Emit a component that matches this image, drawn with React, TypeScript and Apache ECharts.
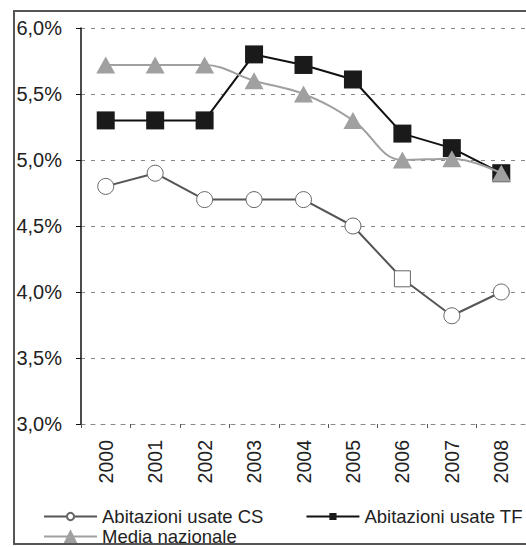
import React, { useEffect, useRef } from "react";
import * as echarts from "echarts";

const years = ["2000", "2001", "2002", "2003", "2004", "2005", "2006", "2007", "2008"];
const usateCS = [4.8, 4.9, 4.7, 4.7, 4.7, 4.5, 4.1, 3.82, 4.0];
const usateTF = [5.3, 5.3, 5.3, 5.8, 5.72, 5.61, 5.2, 5.09, 4.9];
const mediaNazionale = [5.72, 5.72, 5.72, 5.6, 5.5, 5.3, 5.0, 5.01, 4.9];
const seriesNames = ["Abitazioni usate CS", "Abitazioni usate TF", "Media nazionale"];

const FONT = "'Liberation Sans', Arial, Helvetica, sans-serif";

export default function App() {
  const ref = useRef<HTMLDivElement>(null);
  useEffect(() => {
    if (!ref.current) return;
    const chart = echarts.init(ref.current, null, { renderer: "svg" });
    const gridLine = { color: "#888", width: 1, type: [4, 6] as any };
    chart.setOption({
      animation: false,
      backgroundColor: "#fff",
      textStyle: { fontFamily: FONT, color: "#222" },
      grid: { left: 81, top: 28, width: 459, height: 396, containLabel: false },
      xAxis: {
        type: "category",
        data: years,
        boundaryGap: true,
        axisLine: { show: true, lineStyle: gridLine },
        axisTick: { show: true, length: 4, lineStyle: { color: "#555" } },
        axisLabel: { rotate: 90, margin: 16, fontSize: 19.5, color: "#222", fontFamily: FONT },
        splitLine: { show: false },
      },
      yAxis: {
        type: "value",
        min: 3,
        max: 6,
        interval: 0.5,
        axisLine: { show: true, lineStyle: { color: "#111", width: 1.5 } },
        axisTick: { show: true, length: 5, lineStyle: { color: "#111" } },
        axisLabel: {
          margin: 19,
          fontSize: 20,
          color: "#222",
          fontFamily: FONT,
          formatter: (v: number) => v.toFixed(1).replace(".", ",") + "%",
        },
        splitLine: { show: true, lineStyle: gridLine },
      },
      legend: [
        {
          data: [seriesNames[0], seriesNames[1]],
          left: 38,
          top: 502,
          width: 600,
          itemWidth: 53,
          itemHeight: 9,
          itemGap: 42,
          textStyle: { fontSize: 18.5, color: "#222", fontFamily: FONT },
        },
        {
          data: [seriesNames[2]],
          left: 38,
          top: 522,
          itemWidth: 53,
          itemHeight: 18,
          textStyle: { fontSize: 18.5, color: "#222", fontFamily: FONT },
        },
      ],
      graphic: [
        {
          type: "rect",
          shape: { x: 14, y: 11, width: 600, height: 533 },
          style: { fill: "none", stroke: "#555", lineWidth: 2 },
          silent: true,
          z: 100,
        },
      ],
      series: [
        {
          name: seriesNames[0],
          type: "line",
          data: usateCS.map((v, i) => (i === 6 ? { value: v, symbol: "rect" } : v)),
          symbol: "circle",
          symbolSize: 16,
          lineStyle: { color: "#555", width: 2 },
          itemStyle: { color: "#fff", borderColor: "#666", borderWidth: 1 },
          z: 2,
        },
        {
          name: seriesNames[1],
          type: "line",
          data: usateTF,
          symbol: "rect",
          symbolSize: 18,
          lineStyle: { color: "#111", width: 2 },
          itemStyle: { color: "#1a1a1a" },
          z: 3,
        },
        {
          name: seriesNames[2],
          type: "line",
          data: mediaNazionale,
          symbol: "triangle",
          symbolSize: [19, 17],
          smooth: 0.4,
          lineStyle: { color: "#a0a0a0", width: 2 },
          itemStyle: { color: "#a0a0a0" },
          z: 4,
        },
      ],
    });
    return () => chart.dispose();
  }, []);
  return <div ref={ref} style={{ width: 526, height: 547, position: "absolute", left: 0, top: 0 }} />;
}
